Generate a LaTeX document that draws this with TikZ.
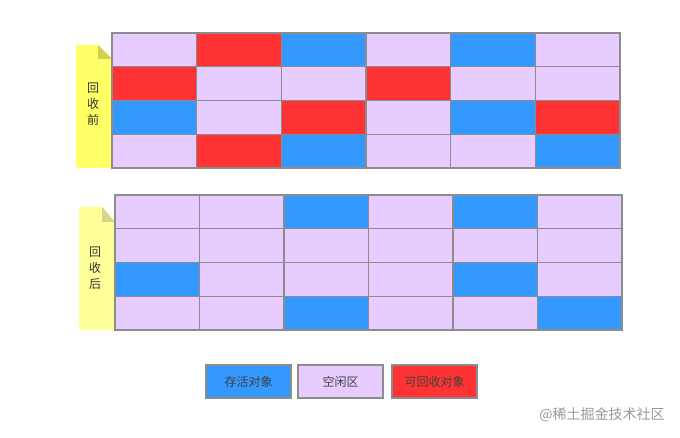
\documentclass[tikz,border=0pt]{standalone}
\usepackage{fontspec}
\newfontfamily\cjk{Noto Sans CJK SC}
\definecolor{bl}{HTML}{3399FF}
\definecolor{pu}{HTML}{E6CCFF}
\definecolor{rd}{HTML}{FF3333}
\definecolor{gridgray}{HTML}{8C8C8C}
\definecolor{noteyel}{HTML}{FFFF66}
\definecolor{notelt}{HTML}{FFFF99}
\definecolor{notefold}{HTML}{D2D24E}
\definecolor{foldlt}{HTML}{D6D68A}

\tikzset{
  cell/.style={draw=gridgray, line width=1.2pt, minimum width=84.6pt, minimum height=33.75pt,
    inner sep=0pt, outer sep=0pt, anchor=north west},
  legendbox/.style={cell, minimum width=85pt, minimum height=33pt, font=\cjk\fontsize{12}{14}\selectfont, text=black!75},
  notetext/.style={font=\cjk\fontsize{12}{16}\selectfont, align=center, text=black!80}
}

\begin{document}
\begin{tikzpicture}[x=1pt, y=-1pt]
  \useasboundingbox[fill=white] (0,0) rectangle (680,438);

  %%%%% notes %%%%%
  \fill[noteyel] (76,45) -- (98,45) -- (112,59) -- (112,168) -- (76,168) -- cycle;
  \fill[notefold] (98,45) -- (98,59) -- (112,59) -- cycle;
  \node[notetext] (before) at (93,104) {回\\收\\前};

  \fill[notelt] (79,207) -- (102,207) -- (115,222) -- (115,330) -- (79,330) -- cycle;
  \fill[foldlt] (102,207) -- (102,222) -- (115,222) -- cycle;
  \node[notetext] (after) at (95,268) {回\\收\\后};

  %%%%% heap before gc %%%%%
  \foreach \r/\list in {1/{pu,rd,bl,pu,bl,pu}, 2/{rd,pu,pu,rd,pu,pu},
                        3/{bl,pu,rd,pu,bl,rd}, 4/{pu,rd,bl,pu,pu,bl}}
    \foreach \k [count=\i] in \list
      \node[cell, fill=\k] (t-\r-\i) at ({112+(\i-1)*84.67}, {33+(\r-1)*33.75}) {};

  %%%%% heap after gc %%%%%
  \foreach \r/\list in {1/{pu,pu,bl,pu,bl,pu}, 2/{pu,pu,pu,pu,pu,pu},
                        3/{bl,pu,pu,pu,bl,pu}, 4/{pu,pu,bl,pu,pu,bl}}
    \foreach \k [count=\i] in \list
      \node[cell, minimum width=84.5pt, fill=\k] (b-\r-\i) at ({115+(\i-1)*84.5}, {195+(\r-1)*33.75}) {};

  %%%%% legend %%%%%
  \node[legendbox, fill=bl] (live) at (206,365) {存活对象};
  \node[legendbox, fill=pu] (free) at (298,365) {空闲区};
  \node[legendbox, fill=rd] (dead) at (392,365) {可回收对象};

  \node[font=\cjk\fontsize{14}{16}\selectfont, text=black!40] (mark) at (602,415) {@稀土掘金技术社区};
\end{tikzpicture}
\end{document}
